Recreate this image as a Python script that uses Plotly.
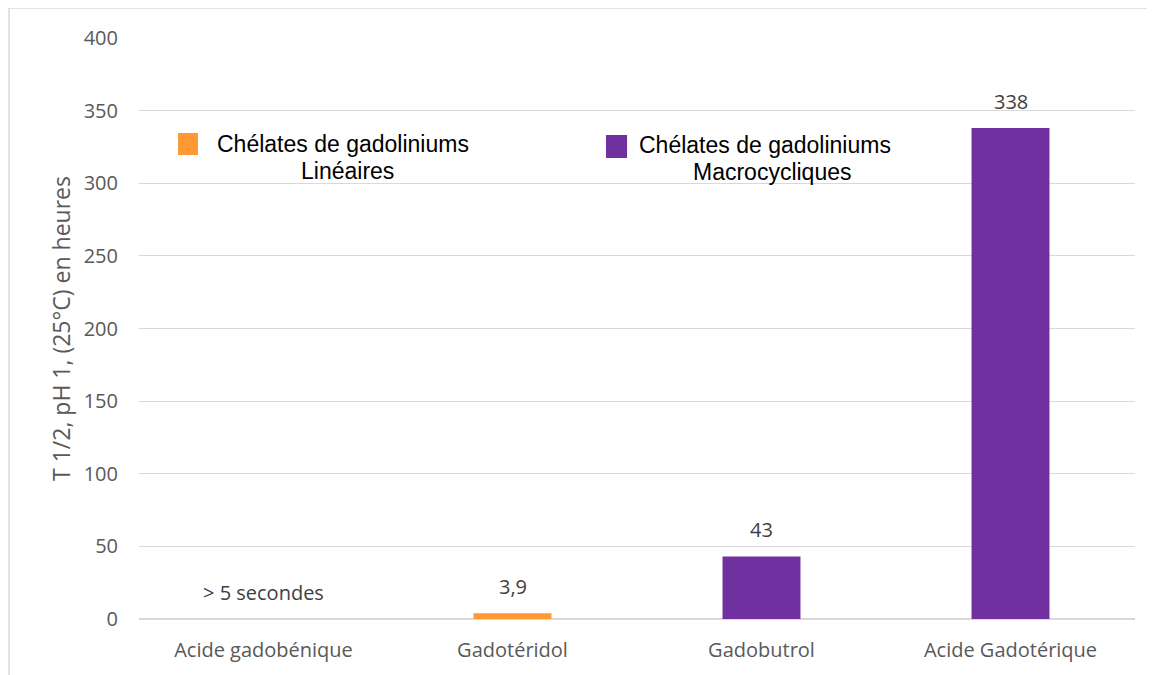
import plotly.graph_objects as go

categories = ["Acide gadobénique", "Gadotéridol", "Gadobutrol", "Acide Gadotérique"]
values = [0.0014, 3.9, 43, 338]
labels = ["> 5 secondes", "3,9", "43", "338"]
families = ["Linéaires", "Linéaires", "Macrocycliques", "Macrocycliques"]
y_ticks = [0, 50, 100, 150, 200, 250, 300, 350, 400]

color_map = {"Linéaires": "#FF9933", "Macrocycliques": "#7030A0"}
colors = [color_map[f] for f in families]

fig = go.Figure()
fig.add_trace(go.Bar(
    x=categories, y=values, marker_color=colors, marker_line_width=0,
    showlegend=False, hoverinfo="x+y",
))

# data labels
label_font = dict(family="Open Sans", size=20, color="#404040")
for c, v, t in zip(categories, values, labels):
    fig.add_annotation(x=c, y=v, text=t, showarrow=False, yanchor="middle",
                       yshift=27, font=label_font)

# legend-like annotations
leg_font = dict(family="Liberation Sans, Arial", size=23, color="#000000")
legend_lines = [
    ("Chélates de gadoliniums", 0.2053, 0.8176),
    ("Linéaires", 0.2093, 0.7711),
    ("Chélates de gadoliniums", 0.6285, 0.8158),
    ("Macrocycliques", 0.6360, 0.7690),
]
for txt, px, py in legend_lines:
    fig.add_annotation(xref="paper", yref="paper", x=px, y=py, text=txt, showarrow=False,
                       xanchor="center", yanchor="middle", font=leg_font)
fig.add_shape(type="rect", xref="paper", yref="paper", x0=0.0392, x1=0.0592, y0=0.7986, y1=0.8365,
              fillcolor=color_map["Linéaires"], line_width=0)
fig.add_shape(type="rect", xref="paper", yref="paper", x0=0.4689, x1=0.4900, y0=0.7935, y1=0.8330,
              fillcolor=color_map["Macrocycliques"], line_width=0)

# outer frame
fig.add_shape(type="rect", xref="paper", yref="paper", x0=-0.1305, x1=1.2, y0=-0.3, y1=1.0516,
              line=dict(color="#D9D9D9", width=1.5), fillcolor="rgba(0,0,0,0)", layer="below")

fig.update_layout(
    width=1147, height=667,
    margin=dict(l=131, r=20, t=30, b=56),
    paper_bgcolor="white", plot_bgcolor="white",
    bargap=0.687,
    font=dict(family="Open Sans", color="#595959"),
    xaxis=dict(showgrid=False, showline=False, ticks="", ticklabelstandoff=17,
               tickfont=dict(family="Open Sans", size=20, color="#595959")),
    yaxis=dict(range=[0, 400], tickvals=y_ticks, showgrid=True, gridcolor="#D9D9D9", gridwidth=1.3,
               zeroline=True, zerolinecolor="#D9D9D9", zerolinewidth=1.5, showline=False,
               ticks="", ticklabelstandoff=20,
               tickfont=dict(family="Open Sans", size=20, color="#595959"),
               title=dict(text="T 1/2, pH 1, (25°C) en heures", standoff=6,
                          font=dict(family="Open Sans", size=23, color="#595959"))),
)

fig.write_html("out.html")
